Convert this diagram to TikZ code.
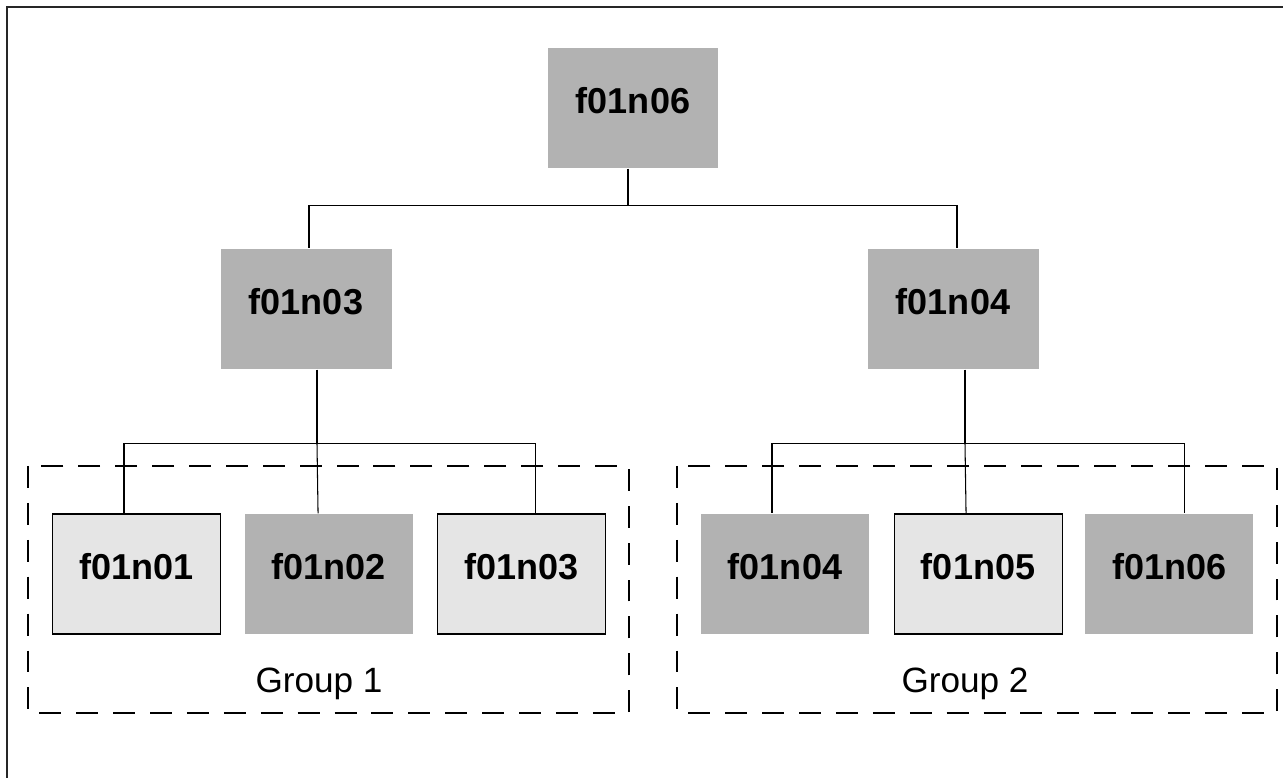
\documentclass[tikz,border=0pt]{standalone}
\usepackage{fontspec}
\setmainfont{Liberation Sans}
\usepackage{xcolor}
\definecolor{hostlite}{gray}{0.90}
\definecolor{hostdark}{gray}{0.70}
\usetikzlibrary{positioning,calc}
\tikzset{
  hostbox/.style={draw=black,line width=0.6pt,fill=hostlite,minimum width=33.6mm,minimum height=24mm,inner sep=0pt,font=\fontsize{20.5}{24}\selectfont\bfseries,text height=14.7pt,text depth=9pt},
  hostshade/.style={hostbox,draw=none,fill=hostdark},
  grpframe/.style={draw,line width=0.6pt,dash pattern=on 12.5pt off 8.5pt},
  grplink/.style={line width=0.6pt},
  grplabel/.style={font=\fontsize{20}{24}\selectfont,anchor=base,inner sep=0pt},
}

\begin{document}
\begin{tikzpicture}[x=0.2mm,y=-0.2mm]
\useasboundingbox (0,0) rectangle (1283,778);
\draw[line width=1.2pt,black!85] (7,778) -- (7,7) -- (1283,7);
% tree
\node[hostshade,minimum width=34mm](root) at (633,108) {f01n06};
\node[hostshade,minimum width=34.2mm](mid1) at (306,309) {f01n03};
\node[hostshade,minimum width=34.2mm](mid2) at (953,309) {f01n04};
% group 1
\node[hostbox](g1a) at (136.5,574) {f01n01};
\node[hostshade,right=4.6mm of g1a](g1b) {f01n02};
\node[hostbox,right=4.8mm of g1b](g1c) {f01n03};
% group 2
\node[hostshade](g2a) at (785,574) {f01n04};
\node[hostbox,right=4.8mm of g2a](g2b) {f01n05};
\node[hostshade,right=4.4mm of g2b](g2c) {f01n06};
\draw[grpframe] (28,466) rectangle (629,713);
\draw[grpframe] (677,466) rectangle (1277,713);
\node[grplabel](lab1) at (319,692) {Group 1};
\node[grplabel](lab2) at (965,692) {Group 2};
% links
\draw[grplink] ($(root.south)+(-5,0)$) -- ++(0,37) coordinate (rbus);
\draw[grplink] (rbus) -| ($(mid1.north)+(3,0)$);
\draw[grplink] (rbus) -| ($(mid2.north)+(4,0)$);
\draw[grplink] ($(mid1.south)+(11,0)$) -- ++(0,74) coordinate (bus1);
\draw[grplink] (bus1) -| ($(g1a.north)+(-12.5,0)$);
\draw[grplink] (bus1) -- ($(g1b.north)+(-10.5,0)$);
\draw[grplink] (bus1) -| ($(g1c.north)+(13.5,0)$);
\draw[grplink] ($(mid2.south)+(12,0)$) -- ++(0,74) coordinate (bus2);
\draw[grplink] (bus2) -| ($(g2a.north)+(-13,0)$);
\draw[grplink] (bus2) -- ($(g2b.north)+(-12,0)$);
\draw[grplink] (bus2) -| ($(g2c.north)+(15,0)$);
\end{tikzpicture}
\end{document}
